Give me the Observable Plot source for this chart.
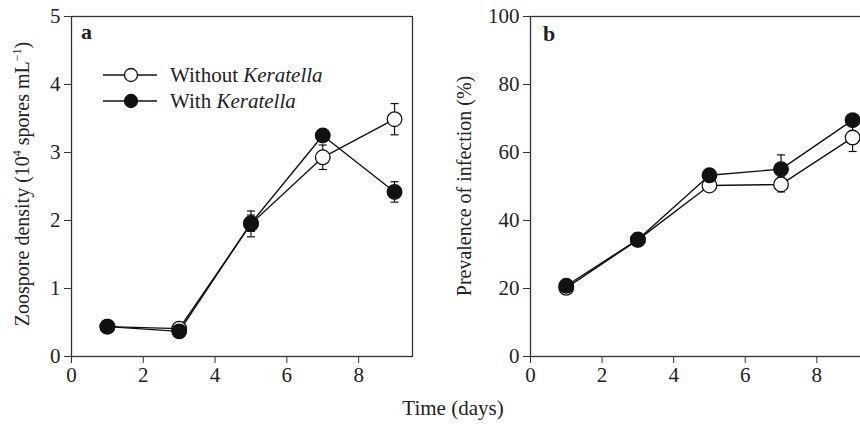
<!DOCTYPE html>
<html>
<head>
<meta charset="utf-8">
<script src="https://cdn.jsdelivr.net/npm/d3@7"></script>
<script src="https://cdn.jsdelivr.net/npm/@observablehq/plot@0.6"></script>
<style>
  html, body { margin: 0; padding: 0; background: #fff; }
  #wrap { position: relative; width: 860px; height: 427px; overflow: hidden; font-family: "Liberation Serif", "Times New Roman", serif; color: #222; }
  #pa, #pb { position: absolute; top: 0; height: 395px; }
  #pa { left: 0; width: 430px; }
  #pb { left: 430px; width: 440px; }
  #pa svg, #pb svg { max-width: none !important; display: block; }
  #xlab { position: absolute; top: 396px; left: 353px; width: 200px; text-align: center; font-size: 21px; color: #222; }
</style>
</head>
<body>
<div id="wrap">
  <div id="pa"></div>
  <div id="pb"></div>
  <div id="xlab">Time (days)</div>
</div>
<script>
// ---- data ----
const days = [1, 3, 5, 7, 9];
const zooWithout   = [0.44, 0.41, 1.95, 2.93, 3.49];
const zooWithoutSE = [0.02, 0.03, 0.19, 0.18, 0.23];
const zooWith      = [0.44, 0.37, 1.96, 3.25, 2.42];
const zooWithSE    = [0.02, 0.02, 0.12, 0.08, 0.15];
const prevWithout   = [20.2, 34.3, 50.3, 50.6, 64.4];
const prevWithoutSE = [0.6, 0.8, 1.0, 2.2, 4.1];
const prevWith      = [20.8, 34.4, 53.3, 55.1, 69.5];
const prevWithSE    = [0.6, 0.8, 1.0, 4.2, 1.5];
const groups = ["Without", "With"];
const xTicks = [0, 2, 4, 6, 8];
const zooTicks = [0, 1, 2, 3, 4, 5];
const prevTicks = [0, 20, 40, 60, 80, 100];

function rows(vals, ses, group) {
  return days.map((d, i) => ({day: d, v: vals[i], se: ses[i], group}));
}

const cap = {draw(ctx) { ctx.moveTo(-4, 0); ctx.lineTo(4, 0); }};
const ink = "#111";
const font = "'Liberation Serif', 'Times New Roman', serif";

function panel({without, withK, yDomain, yTicks, width, marginLeft, marginRight}) {
  const all = without.concat(withK);
  return Plot.plot({
    width, height: 395,
    marginTop: 16, marginBottom: 39, marginLeft, marginRight,
    style: {fontFamily: font, fontSize: "21px", color: "#333", background: "transparent", maxWidth: "none"},
    x: {domain: [0, 9.5]},
    y: {domain: yDomain},
    marks: [
      Plot.axisX({ticks: xTicks, tickSize: 7, tickPadding: 4, label: null, tickFormat: d => d, fill: "#222", fontSize: 21, fontFamily: font}),
      Plot.axisY({ticks: yTicks, tickSize: 7, tickPadding: 4, label: null, tickFormat: d => d, fill: "#222", fontSize: 21, fontFamily: font}),
      Plot.frame({stroke: "#333", strokeWidth: 1.3}),
      Plot.line(all, {x: "day", y: "v", z: "group", stroke: ink, strokeWidth: 1.4}),
      Plot.ruleX(all, {x: "day", y1: d => d.v - d.se, y2: d => d.v + d.se, stroke: ink, strokeWidth: 1.2}),
      Plot.dot(all, {x: "day", y: d => d.v + d.se, symbol: cap, r: 3, stroke: ink, fill: "none", strokeWidth: 1.2}),
      Plot.dot(all, {x: "day", y: d => d.v - d.se, symbol: cap, r: 3, stroke: ink, fill: "none", strokeWidth: 1.2}),
      Plot.dot(without, {x: "day", y: "v", r: 7.3, fill: "white", stroke: ink, strokeWidth: 1.3}),
      Plot.dot(withK, {x: "day", y: "v", r: 7.3, fill: ink, stroke: ink, strokeWidth: 1.3})
    ]
  });
}

const svgA = panel({
  without: rows(zooWithout, zooWithoutSE, groups[0]),
  withK: rows(zooWith, zooWithSE, groups[1]),
  yDomain: [0, 5], yTicks: zooTicks, width: 430, marginLeft: 71, marginRight: 18
});
const svgB = panel({
  without: rows(prevWithout, prevWithoutSE, groups[0]),
  withK: rows(prevWith, prevWithSE, groups[1]),
  yDomain: [0, 100], yTicks: prevTicks, width: 440, marginLeft: 100, marginRight: 0
});
document.getElementById("pa").appendChild(svgA);
document.getElementById("pb").appendChild(svgB);

// Panel letters
d3.select(svgA).append("text").attr("x", 81).attr("y", 39).attr("font-weight", "bold")
  .attr("text-anchor", "start").attr("font-size", 22).attr("font-family", font).attr("fill", "#222").text("a");
d3.select(svgB).append("text").attr("x", 113).attr("y", 41).attr("font-weight", "bold")
  .attr("text-anchor", "start").attr("font-size", 22).attr("font-family", font).attr("fill", "#222").text("b");

// Y axis titles
const ta = d3.select(svgA).append("text")
  .attr("transform", "translate(29,184) rotate(-90)")
  .attr("text-anchor", "middle").attr("font-size", 20).attr("font-family", font).attr("fill", "#222");
ta.append("tspan").text("Zoospore density (10");
ta.append("tspan").attr("font-size", 12).attr("dy", -8).text("4");
ta.append("tspan").attr("dy", 8).text(" spores mL");
ta.append("tspan").attr("font-size", 12).attr("dy", -8).text("\u22121");
ta.append("tspan").attr("dy", 8).text(")");

d3.select(svgB).append("text")
  .attr("transform", "translate(41,186) rotate(-90)")
  .attr("text-anchor", "middle").attr("font-size", 20).attr("font-family", font).attr("fill", "#222")
  .text("Prevalence of infection (%)");

// Legend
const legend = [
  {label: "Without ", fill: "white", y: 75},
  {label: "With ", fill: ink, y: 101}
];
const lg = d3.select(svgA).append("g");
legend.forEach(item => {
  lg.append("line").attr("x1", 103).attr("x2", 157).attr("y1", item.y).attr("y2", item.y)
    .attr("stroke", ink).attr("stroke-width", 1.4);
  lg.append("circle").attr("cx", 131).attr("cy", item.y).attr("r", 6.5)
    .attr("fill", item.fill).attr("stroke", ink).attr("stroke-width", 1.3);
  const t = lg.append("text").attr("x", 170).attr("y", item.y + 7).attr("font-size", 21)
    .attr("text-anchor", "start").attr("font-family", font).attr("fill", "#222");
  t.append("tspan").text(item.label);
  t.append("tspan").attr("font-style", "italic").text("Keratella");
});
</script>
</body>
</html>
